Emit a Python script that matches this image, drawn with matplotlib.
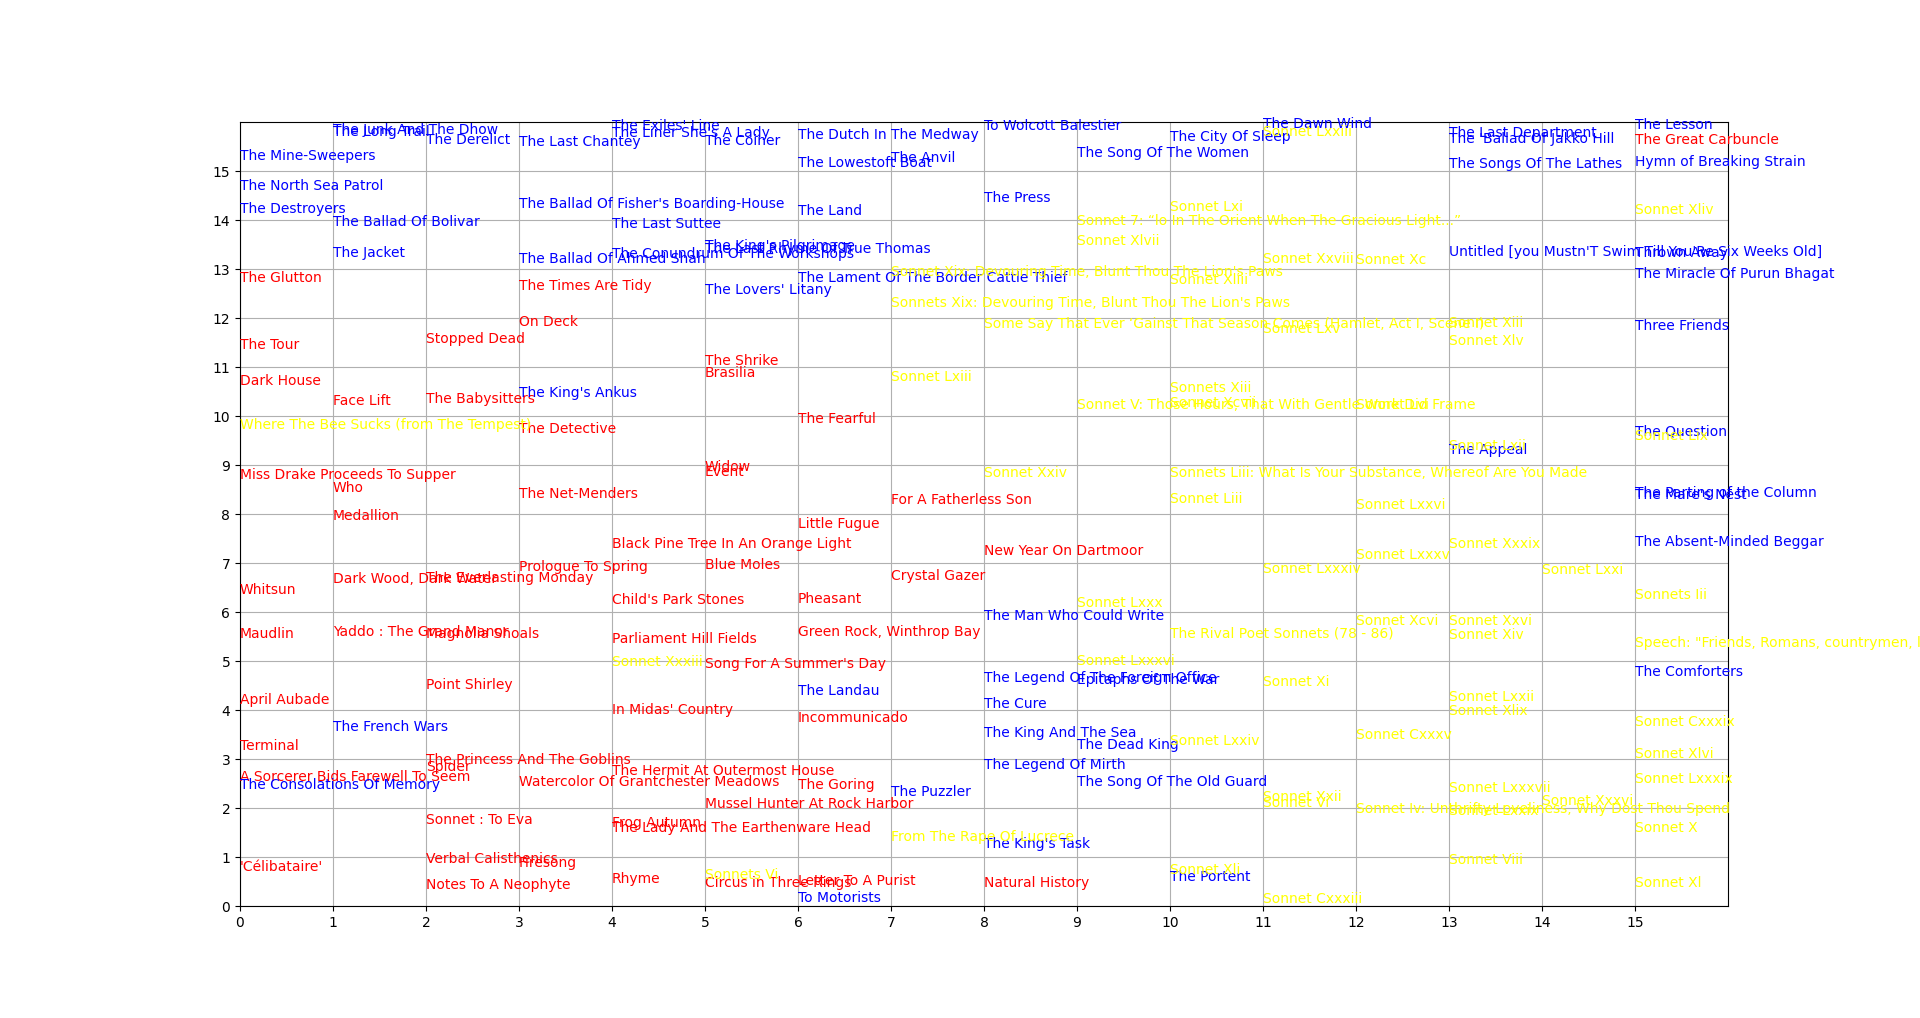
import matplotlib
matplotlib.use('Agg')
import matplotlib.pyplot as plt

#红色的标题 (列号, y, 标题)
red_titles = ["The Glutton", "The Tour", "Dark House", "Miss Drake Proceeds To Supper", "Whitsun", "Maudlin",
              "April Aubade", "Terminal", "A Sorcerer Bids Farewell To Seem", "'Célibataire'",
              "Face Lift", "Who", "Medallion", "Dark Wood, Dark Water", "Yaddo : The Grand Manor",
              "Stopped Dead", "The Babysitters", "The Everlasting Monday", "Magnolia Shoals", "Point Shirley",
              "The Princess And The Goblins", "Spider", "Sonnet : To Eva", "Verbal Calisthenics", "Notes To A Neophyte",
              "The Times Are Tidy", "On Deck", "The Detective", "The Net-Menders", "Prologue To Spring",
              "Watercolor Of Grantchester Meadows", "Firesong",
              "Black Pine Tree In An Orange Light", "Child's Park Stones", "Parliament Hill Fields", "In Midas' Country",
              "The Hermit At Outermost House", "Frog Autumn", "The Lady And The Earthenware Head", "Rhyme",
              "The Shrike", "Brasilia", "Widow", "Event", "Blue Moles", "Song For A Summer's Day",
              "Mussel Hunter At Rock Harbor", "Circus in Three Rings",
              "The Fearful", "Little Fugue", "Pheasant", "Green Rock, Winthrop Bay", "Incommunicado", "The Goring",
              "Letter To A Purist",
              "For A Fatherless Son", "Crystal Gazer",
              "New Year On Dartmoor", "Natural History",
              "The Great Carbuncle"]
red_col = [0]*10 + [1]*5 + [2]*10 + [3]*7 + [4]*8 + [5]*8 + [6]*7 + [7]*2 + [8]*2 + [15]
red_y = [12.74, 11.36, 10.63, 8.71, 6.36, 5.48, 4.12, 3.18, 2.56, 0.71,
         10.22, 8.46, 7.87, 6.6, 5.52,
         11.5, 10.27, 6.62, 5.48, 4.43, 2.89, 2.76, 1.67, 0.88, 0.35,
         12.57, 11.84, 9.65, 8.32, 6.84, 2.45, 0.79,
         7.31, 6.16, 5.36, 3.92, 2.67, 1.62, 1.52, 0.46,
         11.04, 10.8, 8.88, 8.78, 6.87, 4.85, 2.01, 0.39,
         9.85, 7.71, 6.18, 5.52, 3.75, 2.38, 0.43,
         8.2, 6.65,
         7.16, 0.38,
         15.56]

#蓝色的标题
blue_titles = ["The Mine-Sweepers", "The North Sea Patrol", "The Destroyers", "The Consolations Of Memory",
               "The Long Trail", "The Junk And The Dhow", "The Ballad Of Bolivar", "The Jacket", "The French Wars",
               "The Derelict",
               "The Last Chantey", "The Ballad Of Fisher's Boarding-House", "The Ballad Of Ahmed Shah", "The King's Ankus",
               "The Exiles' Line", "The Liner She's A Lady", "The Last Suttee", "The Conundrum Of The Workshops",
               "The Coiner", "The King's Pilgrimage", "The Last Rhyme Of True Thomas", "The Lovers' Litany",
               "The Dutch In The Medway", "The Lowestoft Boat", "The Land", "The Lament Of The Border Cattle Thief",
               "The Landau", "To Motorists",
               "The Anvil", "The Puzzler",
               "To Wolcott Balestier", "The Press", "The Man Who Could Write", "The Legend Of The Foreign Office",
               "The Cure", "The King And The Sea", "The Legend Of Mirth", "The King's Task",
               "The Song Of The Women", "Epitaphs Of The War", "The Dead King", "The Song Of The Old Guard",
               "The City Of Sleep", "The Portent",
               "The Dawn Wind",
               "The Last Department", "The 'Ballad Of Jakko Hill", "The Songs Of The Lathes",
               "Untitled [you Mustn'T Swim Till You'Re Six Weeks Old]", "The Appeal",
               "The Lesson", "Hymn of Breaking Strain", "Thrown Away", "The Miracle Of Purun Bhagat", "Three Friends",
               "The Question", "The Parting of the Column", "The Mare's Nest", "The Absent-Minded Beggar",
               "The Comforters"]
blue_col = [0]*4 + [1]*5 + [2] + [3]*4 + [4]*4 + [5]*4 + [6]*6 + [7]*2 + [8]*8 + [9]*4 + [10]*2 + [11] + [13]*5 + [15]*10
blue_y = [15.22, 14.61, 14.14, 2.39,
          15.72, 15.75, 13.88, 13.24, 3.58,
          15.56,
          15.52, 14.25, 13.13, 10.38,
          15.84, 15.7, 13.84, 13.22,
          15.53, 13.39, 13.33, 12.5,
          15.66, 15.09, 14.11, 12.74, 4.31, 0.09,
          15.19, 2.25,
          15.84, 14.37, 5.84, 4.58, 4.05, 3.44, 2.79, 1.18,
          15.29, 4.54, 3.2, 2.45,
          15.62, 0.52,
          15.89,
          15.7, 15.58, 15.07, 13.27, 9.22,
          15.87, 15.11, 13.25, 12.81, 11.76, 9.61, 8.35, 8.3, 7.35, 4.69]

#黄色的标题
yellow_titles = ["Where The Bee Sucks (from The Tempest)",
                 "Sonnet Xxxiii",
                 "Sonnets Vi",
                 "Sonnet Xix: Devouring Time, Blunt Thou The Lion's Paws",
                 "Sonnets Xix: Devouring Time, Blunt Thou The Lion's Paws", "Sonnet Lxiii", "From The Rape Of Lucrece",
                 "Some Say That Ever \u2018Gainst That Season Comes (Hamlet, Act I, Scene I)", "Sonnet Xxiv",
                 "Sonnet 7: \u201clo In The Orient When The Gracious Light...\u201d", "Sonnet Xlvii",
                 "Sonnet V: Those Hours, That With Gentle Work Did Frame", "Sonnet Lxxx", "Sonnet Lxxxvi",
                 "Sonnet Lxi", "Sonnet Xliii", "Sonnets Xiii", "Sonnet Xcvii",
                 "Sonnets Liii: What Is Your Substance, Whereof Are You Made", "Sonnet Liii",
                 "The Rival Poet Sonnets (78 - 86)", "Sonnet Lxxiv", "Sonnet Xli",
                 "Sonnet Lxxiii", "Sonnet Xxviii", "Sonnet Lxv", "Sonnet Lxxxiv", "Sonnet Xi", "Sonnet Xxii",
                 "Sonnet Vi", "Sonnet Cxxxiii",
                 "Sonnet Xc", "Sonnet Lvi", "Sonnet Lxxvi", "Sonnet Lxxxv", "Sonnet Xcvi", "Sonnet Cxxxv",
                 "Sonnet Iv: Unthrifty Loveliness, Why Dost Thou Spend",
                 "Sonnet Xiii", "Sonnet Xlv", "Sonnet Lxii", "Sonnet Xxxix", "Sonnet Xxvi", "Sonnet Xiv",
                 "Sonnet Lxxii", "Sonnet Xlix", "Sonnet Lxxxvii", "Sonnet Lxxix", "Sonnet Viii",
                 "Sonnet Lxxi", "Sonnet Xxxvi",
                 "Sonnet Xliv", "Sonnet Lix", "Sonnets Iii",
                 "Speech: \"Friends, Romans, countrymen, lend me your ears\"",
                 "Sonnet Cxxxix", "Sonnet Xlvi", "Sonnet Lxxxix", "Sonnet X", "Sonnet Xl"]
yellow_col = [0] + [4] + [5] + [7]*4 + [8]*2 + [9]*5 + [10]*9 + [11]*8 + [12]*7 + [13]*11 + [14]*2 + [15]*9
yellow_y = [9.73,
            4.9,
            0.56,
            12.86, 12.22, 10.72, 1.33,
            11.79, 8.76,
            13.9, 13.5, 10.15, 6.11, 4.92,
            14.19, 12.69, 10.5, 10.18, 8.76, 8.22, 5.48, 3.29, 0.65,
            15.72, 13.13, 11.7, 6.79, 4.5, 2.15, 2.03, 0.07,
            13.1, 10.15, 8.1, 7.08, 5.74, 3.4, 1.89,
            11.82, 11.45, 9.31, 7.3, 5.73, 5.46, 4.19, 3.9, 2.33, 1.86, 0.86,
            6.77, 2.07,
            14.12, 9.52, 6.26, 5.29, 3.67, 3.03, 2.52, 1.52, 0.39]

fig = plt.figure(figsize=(19.2, 10.18), dpi=100)
ax = fig.add_subplot(111)

#画图
for titles, cols, ys, c in [(red_titles, red_col, red_y, 'red'),
                            (blue_titles, blue_col, blue_y, 'blue'),
                            (yellow_titles, yellow_col, yellow_y, 'yellow')]:
    for t, x, y in zip(titles, cols, ys):
        ax.text(x, y, t, color=c, fontsize=10)

ax.set_xlim(0, 16)
ax.set_ylim(0, 16)
ax.set_xticks(range(16))
ax.set_yticks(range(16))
ax.grid(True)

fig.savefig('out.png', dpi=100)
